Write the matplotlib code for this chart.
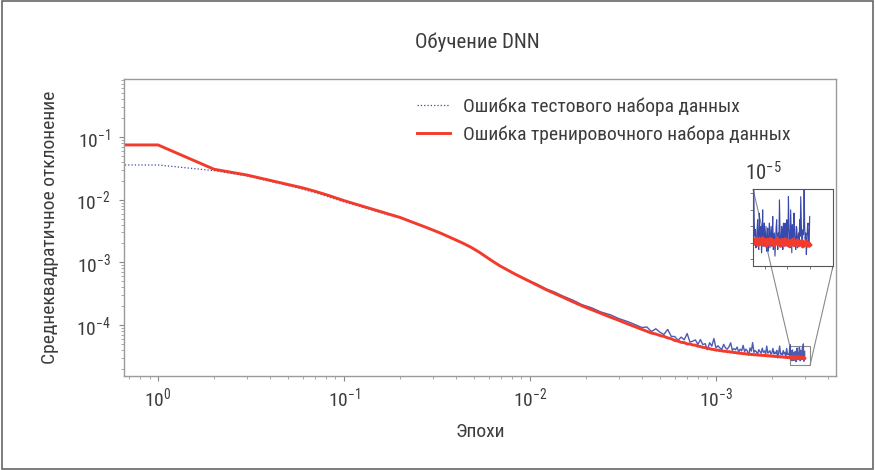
import numpy as np
import matplotlib
matplotlib.use('Agg')
import matplotlib.pyplot as plt
from matplotlib import font_manager as fm
from matplotlib.ticker import MultipleLocator, NullFormatter, LogLocator
from matplotlib.patches import Rectangle
from mpl_toolkits.axes_grid1.inset_locator import mark_inset

# ---------------- texts ----------------
title = 'Обучение DNN'
xlabel = 'Эпохи'
ylabel = 'Среднеквадратичное отклонение'
legend_labels = ['Ошибка тестового набора данных', 'Ошибка тренировочного набора данных']
xtick_pos = [1, 10, 100, 1000]
xtick_labels = ['$10^{0}$', '$10^{-1}$', '$10^{-2}$', '$10^{-3}$']
ytick_pos = [1e-4, 1e-3, 1e-2, 1e-1]
ytick_labels = ['$10^{-4}$', '$10^{-3}$', '$10^{-2}$', '$10^{-1}$']
inset_label = '$10^{-5}$'

# ---------------- data ----------------
head_epochs = [0, 1, 2, 3, 4, 5, 6, 7, 8, 10, 12, 14, 17, 20, 24, 28, 33, 38, 43,
               48, 53, 58, 63, 69, 75, 82, 90, 100, 110, 122, 135, 150, 170, 190,
               215, 240, 270, 300, 340, 390]
train_head = [0.0745, 0.0745, 0.0305, 0.0247, 0.0203, 0.01746, 0.01538, 0.01356,
              0.01202, 0.00964, 0.0082, 0.00713, 0.0060, 0.0052, 0.00424, 0.00356,
              0.00293, 0.00243, 0.00206, 0.00175, 0.00147, 0.00123, 0.00104,
              0.000877, 0.000766, 0.000663, 0.000577, 0.000494, 0.000428,
              0.000367, 0.000321, 0.000279, 0.000235, 0.000203, 0.000175,
              0.000154, 0.000134, 0.000119, 0.0001026, 8.77e-5]
test_head = [0.0357, 0.0357, 0.029, 0.0239, 0.0196, 0.0168, 0.0147, 0.0129,
             0.0114, 0.0092, 0.0079, 0.0069, 0.0058, 0.0051, 0.0042, 0.00352,
             0.0029, 0.00242, 0.00205, 0.00175, 0.00147, 0.00123, 0.00104,
             0.00088, 0.00077, 0.000668, 0.000583, 0.000502, 0.000445,
             0.000378, 0.000338, 0.000291, 0.000250, 0.000212, 0.000188,
             0.000162, 0.000146, 0.000127, 0.000112, 9.4e-5]

mid_epochs = np.arange(400, 2500, 25)
train_mid_e5 = [8.5, 7.95, 7.45, 7.2, 6.8, 6.6, 6.25, 6.05, 5.68, 5.55,
                5.3, 5.25, 5.0, 4.98, 4.82, 4.78, 4.6, 4.55, 4.4, 4.38,
                4.22, 4.2, 4.1, 4.08, 3.98, 3.98, 3.9, 3.9, 3.82, 3.83,
                3.76, 3.77, 3.7, 3.71, 3.64, 3.65, 3.58, 3.59, 3.53, 3.55,
                3.49, 3.51, 3.45, 3.47, 3.41, 3.44, 3.38, 3.41, 3.35, 3.38,
                3.33, 3.35, 3.30, 3.33, 3.28, 3.31, 3.26, 3.29, 3.24, 3.27,
                3.22, 3.25, 3.20, 3.23, 3.18, 3.21, 3.16, 3.19, 3.14, 3.17,
                3.12, 3.15, 3.10, 3.13, 3.09, 3.12, 3.07, 3.10, 3.06, 3.09,
                3.04, 3.08, 3.03, 3.07]
test_mid_e5 = [9.13, 9.32, 7.88, 8.72, 7.67, 7.07, 8.51, 6.60, 6.56, 5.72,
               6.42, 5.82, 7.32, 5.35, 5.53, 5.80, 4.90, 5.88, 4.87, 5.05,
               4.05, 5.23, 4.61, 6.09, 4.32, 4.67, 4.31, 4.07, 4.92, 4.34,
               4.12, 4.50, 5.21, 3.95, 4.21, 4.03, 4.46, 3.71, 4.12, 3.88,
               4.74, 3.77, 4.13, 3.86, 3.30, 4.31, 3.84, 5.25, 3.67, 3.93,
               3.72, 3.46, 4.05, 3.77, 3.56, 4.28, 3.67, 3.86, 3.46, 4.62,
               3.56, 3.71, 3.90, 3.43, 3.62, 4.24, 3.47, 3.71, 3.51, 3.94,
               3.00, 3.63, 4.62, 3.43, 3.55, 3.35, 3.92, 3.46, 3.67, 3.25,
               4.23, 3.40, 3.51, 3.32]

train_end_epochs = np.arange(2500, 3001, 10)
train_end_e5 = [3.08, 2.98, 3.12, 3.02, 2.95, 3.10, 3.04, 2.97, 3.13, 3.00,
                3.06, 2.93, 3.09, 3.03, 2.96, 3.11, 3.01, 3.07, 2.94, 3.05,
                2.99, 3.12, 2.97, 3.04, 2.92, 3.08, 3.00, 2.95, 3.10, 3.02,
                2.96, 3.06, 2.91, 3.03, 2.98, 3.09, 2.94, 3.01, 2.97, 3.07,
                2.93, 3.02, 2.96, 3.05, 2.90, 3.00, 2.95, 3.04, 2.92, 2.98,
                2.94]
test_end_epochs = np.arange(2500, 3001, 5)
test_end_e5 = [4.9, 3.6, 3.2, 3.4, 2.85, 3.0, 3.4, 3.7, 3.0, 2.8,
               3.9, 3.3, 3.1, 3.5, 2.7, 3.1, 4.0, 2.9, 3.3, 3.6,
               2.9, 3.2, 3.5, 2.75, 3.05, 3.45, 2.75, 3.0, 3.6, 2.85,
               3.2, 3.5, 2.9, 3.2, 3.8, 2.8, 3.1, 3.3, 2.6, 3.05,
               3.45, 3.7, 3.0, 2.8, 3.3, 3.1, 4.3, 3.4, 2.95, 3.05,
               3.5, 3.3, 2.8, 3.6, 3.25, 2.9, 3.6, 3.2, 2.9, 3.7,
               3.4, 2.9, 4.4, 3.5, 3.1, 2.85, 4.0, 3.3, 2.7, 3.55,
               3.3, 2.95, 3.9, 3.35, 3.0, 2.8, 3.5, 3.45, 2.85, 3.1,
               3.3, 2.9, 3.7, 3.2, 4.4, 3.6, 2.9, 3.05, 3.4, 3.25,
               5.0, 3.5, 3.1, 3.3, 2.65, 3.0, 3.5, 3.6, 3.0, 2.9,
               3.8]

train_epochs = np.concatenate([head_epochs, mid_epochs, train_end_epochs])
test_epochs = np.concatenate([head_epochs, mid_epochs, test_end_epochs])
train = np.concatenate([train_head, np.array(train_mid_e5) * 1e-5, np.array(train_end_e5) * 1e-5])
test = np.concatenate([test_head, np.array(test_mid_e5) * 1e-5, np.array(test_end_e5) * 1e-5])

# ---------------- fonts ----------------
def pick_font():
    names = {f.name for f in fm.fontManager.ttflist}
    for n in ['Liberation Sans Narrow', 'Roboto Condensed', 'Open Sans Condensed',
              'Noto Sans Condensed', 'DejaVu Sans Condensed']:
        if n in names:
            return n, 'normal'
    for f in fm.fontManager.ttflist:
        if f.name in ('DejaVu Sans', 'Noto Sans', 'Open Sans', 'Roboto') and \
                str(f.stretch) in ('condensed', 'semi-condensed', 'extra-condensed'):
            return f.name, str(f.stretch)
    return 'Roboto', 'normal'

FONT, STRETCH = pick_font()
plt.rcParams['font.family'] = [FONT, 'DejaVu Sans']
plt.rcParams['font.stretch'] = STRETCH
plt.rcParams['mathtext.fontset'] = 'custom'
for k in ['rm', 'it', 'bf', 'sf']:
    plt.rcParams['mathtext.' + k] = FONT + (':stretch=' + STRETCH if STRETCH != 'normal' else '')

TXT = '#3c3c3c'
BLUE = '#3949ab'
RED = '#f23b2c'

fig = plt.figure(figsize=(8.75, 4.7), dpi=100)
ax = fig.add_axes([0.1417, 0.2, 0.8137, 0.632])

head_mask = test_epochs <= 100
tail_mask = test_epochs >= 100
l1, = ax.plot(test_epochs[head_mask], test[head_mask], color=BLUE, lw=0.9, ls=':')
ax.plot(test_epochs[tail_mask], test[tail_mask], color=BLUE, lw=1.0, alpha=0.9)
l2, = ax.plot(train_epochs, train, color=RED, lw=2.1)
ax.set_xscale('log')
ax.set_yscale('log')
ax.set_xlim(0.656, 4420)
ax.set_ylim(1.54e-5, 0.84)

ax.set_xticks(xtick_pos, xtick_labels)
ax.set_yticks(ytick_pos, ytick_labels)
ax.xaxis.set_minor_locator(LogLocator(base=10, subs=np.arange(2, 10)))
ax.yaxis.set_minor_locator(LogLocator(base=10, subs=np.arange(2, 10)))
ax.xaxis.set_minor_formatter(NullFormatter())
ax.yaxis.set_minor_formatter(NullFormatter())
ax.tick_params(which='major', direction='out', length=3.5, width=0.8, color='#888888',
               labelsize=14, labelcolor=TXT)
ax.tick_params(axis='x', which='major', pad=4)
ax.tick_params(axis='y', which='major', pad=6)
ax.tick_params(which='minor', direction='out', length=2, width=0.6, color='#999999')
for s in ax.spines.values():
    s.set_color('#9a9a9a')
    s.set_linewidth(1.0)

ax.set_xlabel(xlabel, fontsize=14, color=TXT, labelpad=9)
ax.set_ylabel(ylabel, fontsize=14, color=TXT, labelpad=12)
fig.text(0.545, 0.91, title, ha='center', va='center', fontsize=15, color=TXT)

leg = ax.legend([l1, l2], legend_labels, loc='upper left', bbox_to_anchor=(0.40, 0.965),
                frameon=False, fontsize=14, handlelength=1.7, handletextpad=0.7,
                labelspacing=0.5, borderaxespad=0)
for t in leg.get_texts():
    t.set_color(TXT)

# ---------------- inset ----------------
axins = fig.add_axes([0.8606, 0.434, 0.0914, 0.1638])
axins.set_facecolor('none')
axins.plot(test_epochs, test, color=BLUE, lw=0.8)
axins.plot(train_epochs, train, color=RED, lw=3.2)
axins.set_xlim(2494, 3208)
axins.set_ylim(2.3e-5, 4.63e-5)
axins.xaxis.set_major_locator(MultipleLocator(200))
axins.yaxis.set_major_locator(MultipleLocator(0.5e-5))
axins.tick_params(direction='out', length=2.5, width=0.6, color='#666666',
                  labelbottom=False, labelleft=False)
for s in axins.spines.values():
    s.set_color('#555555')
    s.set_linewidth(0.8)
axins.text(-0.1, 1.06, inset_label, transform=axins.transAxes, ha='left', va='bottom',
           fontsize=15, color=TXT)
mark_inset(ax, axins, loc1=2, loc2=4, fc='none', ec='#8a8a8a', lw=0.8)

fig.patches.append(Rectangle((0.002, 0.003), 0.996, 0.994, transform=fig.transFigure,
                             fill=False, ec='#666666', lw=1.2))

fig.savefig('out.png', dpi=100, facecolor='white')
